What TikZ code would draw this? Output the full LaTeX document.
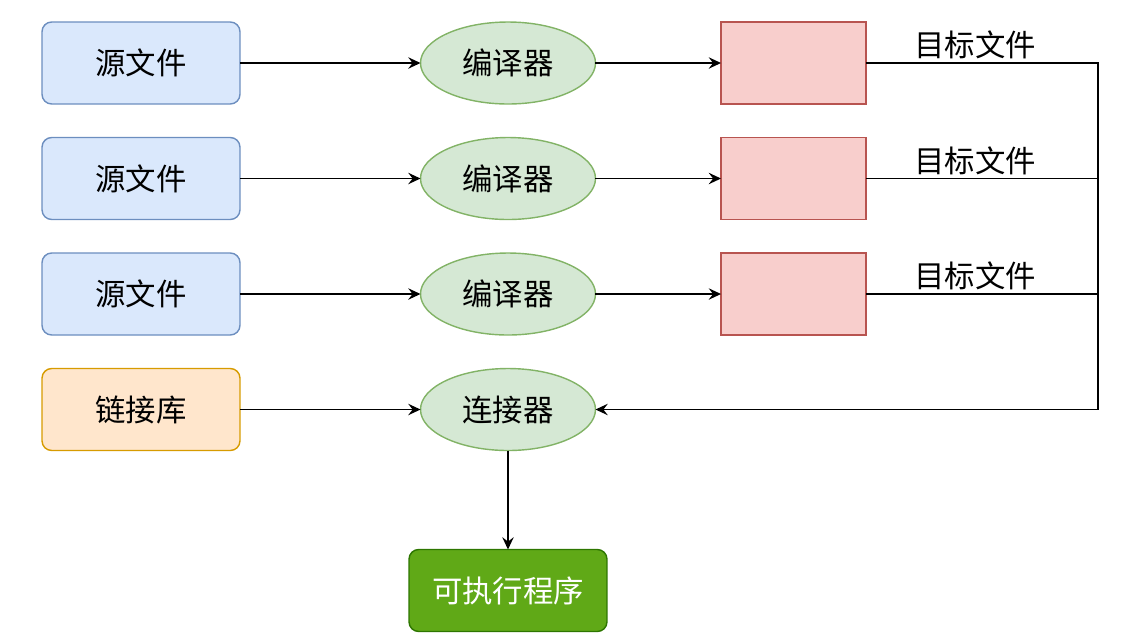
\documentclass[tikz,border=0pt]{standalone}
\usepackage{fontspec}
\newfontfamily\cjk{Noto Sans CJK SC}
\usetikzlibrary{arrows.meta,shapes.geometric}
\definecolor{srcfill}{HTML}{DAE8FC}
\definecolor{srcdraw}{HTML}{6C8EBF}
\definecolor{libfill}{HTML}{FFE6CC}
\definecolor{libdraw}{HTML}{D79B00}
\definecolor{cmpfill}{HTML}{D5E8D4}
\definecolor{cmpdraw}{HTML}{82B366}
\definecolor{objfill}{HTML}{F8CECC}
\definecolor{objdraw}{HTML}{B85450}
\definecolor{exefill}{HTML}{60A917}
\definecolor{exedraw}{HTML}{2D7600}
\begin{document}
\begin{tikzpicture}[x=0.02cm,y=-0.02cm,
  every node/.style={font=\cjk\fontsize{17.3}{21}\selectfont, inner sep=0pt, outer sep=0pt},
  srcbox/.style={draw=srcdraw, fill=srcfill, line width=0.8pt, rounded corners=5.5pt, minimum width=3.96cm, minimum height=1.64cm},
  libbox/.style={srcbox, draw=libdraw, fill=libfill},
  cmp/.style={ellipse, draw=cmpdraw, fill=cmpfill, line width=0.8pt, minimum width=3.5cm, minimum height=1.64cm},
  objbox/.style={draw=objdraw, fill=objfill, line width=0.8pt, minimum width=2.9cm, minimum height=1.64cm},
  exebox/.style={srcbox, draw=exedraw, fill=exefill, text=white},
  lbl/.style={text=black},
  conn/.style={line width=0.8pt, draw=black},
  arr/.style={conn, -{Stealth[length=7pt, width=6.5pt, inset=2.5pt]}}
]
\useasboundingbox (0,0) rectangle (1133,637);
\node[srcbox] (s1) at (141,63) {源文件};
\node[srcbox] (s2) at (141,178.5) {源文件};
\node[srcbox] (s3) at (141,294) {源文件};
\node[libbox] (lib) at (141,409.5) {链接库};
\node[cmp] (c1) at (508,63) {编译器};
\node[cmp] (c2) at (508,178.5) {编译器};
\node[cmp] (c3) at (508,294) {编译器};
\node[cmp] (link) at (508,409.5) {连接器};
\node[objbox] (o1) at (793.5,63) {};
\node[objbox] (o2) at (793.5,178.5) {};
\node[objbox] (o3) at (793.5,294) {};
\node[exebox] (exe) at (508,590.5) {可执行程序};
\coordinate (b1) at (1098,63);
\coordinate (b2) at (1098,178.5);
\coordinate (b3) at (1098,294);
\coordinate (b4) at (1098,409.5);
\node[lbl] (t1) at (975,45) {目标文件};
\node[lbl] (t2) at (975,161) {目标文件};
\node[lbl] (t3) at (975,276) {目标文件};
\draw[arr] (s1.east) -- (c1.west);
\draw[arr] (s2.east) -- (c2.west);
\draw[arr] (s3.east) -- (c3.west);
\draw[arr] (lib.east) -- (link.west);
\draw[arr] (c1.east) -- (o1.west);
\draw[arr] (c2.east) -- (o2.west);
\draw[arr] (c3.east) -- (o3.west);
\draw[conn] (o2.east) -- (b2);
\draw[conn] (o3.east) -- (b3);
\draw[arr] (o1.east) -- (b1) -- (b4) -- (link.east);
\draw[arr] (link.south) -- (exe.north);
\end{tikzpicture}
\end{document}
